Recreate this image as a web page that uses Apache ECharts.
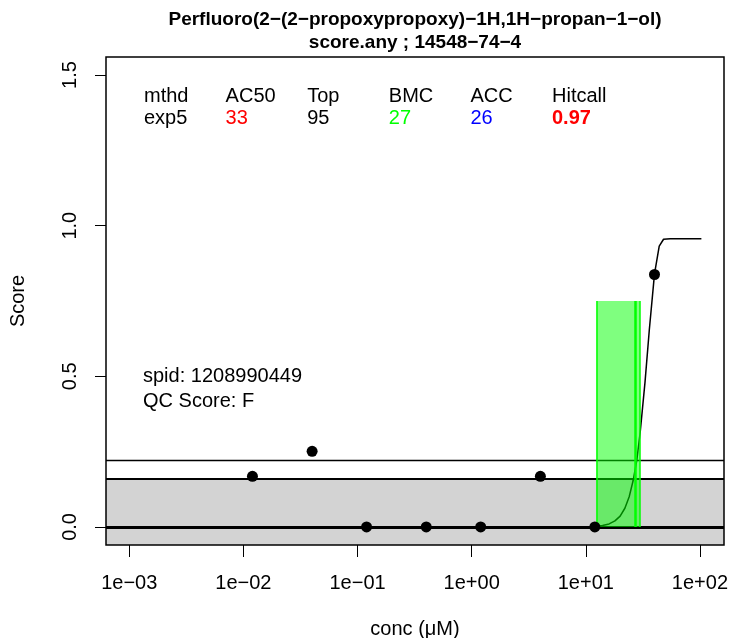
<!DOCTYPE html>
<html>
<head>
<meta charset="utf-8">
<script src="https://cdn.jsdelivr.net/npm/echarts@6/dist/echarts.min.js"></script>
<style>
  html, body { margin: 0; padding: 0; background: #fff; }
  #chart { width: 733px; height: 638px; }
</style>
</head>
<body>
<div id="chart"></div>
<script>
// measured points (conc in uM, score)
const concs = [0.012, 0.04, 0.12, 0.4, 1.2, 4, 12, 40]
const scores = [0.168, 0.251, 0, 0, 0, 0.168, 0, 0.838]

// fitted exp5 curve
const fitConcs = [12, 14, 16, 18, 20, 22, 24, 26, 28, 30, 33, 36, 40, 44, 48, 55, 70, 103]
const fitScores = [0.002, 0.005, 0.010, 0.020, 0.036, 0.062, 0.100, 0.154, 0.222, 0.316, 0.479, 0.653, 0.840, 0.932, 0.955, 0.957, 0.957, 0.957]

// reference lines
const bandLevel = 0.161 // grey noise band top
const cutoff = 0.216
const bmdRange = [12.4, 29.8] // bmdl, bmdu
const bmc = 27
const bmdBoxTop = 0.75

// labels
const xTicks = [-3, -2, -1, 0, 1, 2]
const yTicks = [0, 0.5, 1, 1.5]
const tableHead = ['mthd', 'AC50', 'Top', 'BMC', 'ACC', 'Hitcall']
const tableVals = ['exp5', '33', '95', '27', '26', '0.97']
const tableColors = ['#000', '#ff0000', '#000', '#00ff00', '#0000ff', '#ff0000']
const titleLines = ['Perfluoro(2−(2−propoxypropoxy)−1H,1H−propan−1−ol)', 'score.any ; 14548−74−4']
const notes = ['spid: 1208990449', 'QC Score: F']

const lg = v => Math.log10(v)
const font = 'Liberation Sans, Arial, sans-serif'
const xMin = -3.204
const xMax = 2.211
const yMin = -0.06
const yMax = 1.56

const graphics = []
titleLines.forEach((t, i) => {
  graphics.push({
    type: 'text', x: 415, y: 20 + i * 23,
    style: { text: t, fontFamily: font, fontSize: 19, fontWeight: 'bold', fill: '#000', align: 'center', verticalAlign: 'middle' }
  })
})
tableHead.forEach((t, i) => {
  graphics.push({
    type: 'text', x: 144 + i * 81.6, y: 96,
    style: { text: t, fontFamily: font, fontSize: 20, fill: '#000', verticalAlign: 'middle' }
  })
  graphics.push({
    type: 'text', x: 144 + i * 81.6, y: 118.5,
    style: { text: tableVals[i], fontFamily: font, fontSize: 20, fill: tableColors[i], fontWeight: i === 5 ? 'bold' : 'normal', verticalAlign: 'middle' }
  })
})
notes.forEach((t, i) => {
  graphics.push({
    type: 'text', x: 143, y: 376 + i * 25,
    style: { text: t, fontFamily: font, fontSize: 20, fill: '#000', verticalAlign: 'middle' }
  })
})

const option = {
  animation: false,
  textStyle: { fontFamily: font },
  grid: {
    show: true, z: 10,
    left: 106, right: 9, top: 57, bottom: 93,
    outerBoundsMode: 'none',
    borderColor: '#000', borderWidth: 1.5,
    backgroundColor: 'transparent'
  },
  graphic: graphics,
  xAxis: {
    type: 'value', min: xMin, max: xMax,
    name: 'conc (μM)', nameLocation: 'middle', nameGap: 74,
    nameTextStyle: { color: '#000', fontSize: 20, fontFamily: font },
    axisLine: { show: false, onZero: false },
    splitLine: { show: false },
    axisTick: { show: true, length: 12, lineStyle: { color: '#000', width: 1 }, customValues: xTicks },
    axisLabel: {
      color: '#000', fontSize: 20, margin: 28, customValues: xTicks,
      formatter: v => {
        const e = Math.round(v)
        return '1e' + (e < 0 ? '−' : '+') + String(Math.abs(e)).padStart(2, '0')
      }
    }
  },
  yAxis: {
    type: 'value', min: yMin, max: yMax,
    name: 'Score', nameLocation: 'middle', nameGap: 78,
    nameTextStyle: { color: '#000', fontSize: 20, fontFamily: font },
    axisLine: { show: false, onZero: false },
    splitLine: { show: false },
    axisTick: { show: true, length: 11, lineStyle: { color: '#000', width: 1 }, customValues: yTicks },
    axisLabel: {
      color: '#000', fontSize: 20, margin: 26, rotate: 90, customValues: yTicks,
      formatter: v => v.toFixed(1)
    }
  },
  series: [
    { // grey band + horizontal lines
      type: 'line', data: [], z: 1,
      markArea: {
        silent: true, z: 1,
        itemStyle: { color: '#d3d3d3' },
        data: [[{ xAxis: xMin, yAxis: yMin }, { xAxis: xMax, yAxis: bandLevel }]]
      },
      markLine: {
        silent: true, symbol: 'none', z: 2,
        label: { show: false },
        data: [
          { yAxis: 0, lineStyle: { color: '#000', width: 3, type: 'solid' } },
          { yAxis: bandLevel, lineStyle: { color: '#000', width: 2, type: 'solid' } },
          { yAxis: cutoff, lineStyle: { color: '#000', width: 1.3, type: 'solid' } }
        ]
      }
    },
    { // fit curve
      type: 'line', z: 3,
      data: fitConcs.map((c, i) => [lg(c), fitScores[i]]),
      showSymbol: false, smooth: false,
      lineStyle: { color: '#000', width: 1.5 }
    },
    { // bmd box
      type: 'line', data: [], z: 4,
      markArea: {
        silent: true, z: 4,
        itemStyle: { color: 'rgba(0,255,0,0.5)' },
        data: [[{ xAxis: lg(bmdRange[0]), yAxis: 0 }, { xAxis: lg(bmdRange[1]), yAxis: bmdBoxTop }]]
      },
      markLine: {
        silent: true, symbol: 'none', z: 5,
        label: { show: false },
        data: [
          [{ coord: [lg(bmdRange[0]), 0], lineStyle: { color: '#00ff00', width: 1.5, type: 'solid' } }, { coord: [lg(bmdRange[0]), bmdBoxTop] }],
          [{ coord: [lg(bmdRange[1]), 0], lineStyle: { color: '#00ff00', width: 1.5, type: 'solid' } }, { coord: [lg(bmdRange[1]), bmdBoxTop] }],
          [{ coord: [lg(bmc), 0], lineStyle: { color: '#00ff00', width: 2.5, type: 'solid' } }, { coord: [lg(bmc), bmdBoxTop] }]
        ]
      }
    },
    { // points
      type: 'scatter', z: 6,
      data: concs.map((c, i) => [lg(c), scores[i]]),
      symbol: 'circle', symbolSize: 11,
      itemStyle: { color: '#000', opacity: 1 }
    }
  ]
}

const myChart = echarts.init(document.getElementById('chart'))
myChart.setOption(option)
</script>
</body>
</html>
